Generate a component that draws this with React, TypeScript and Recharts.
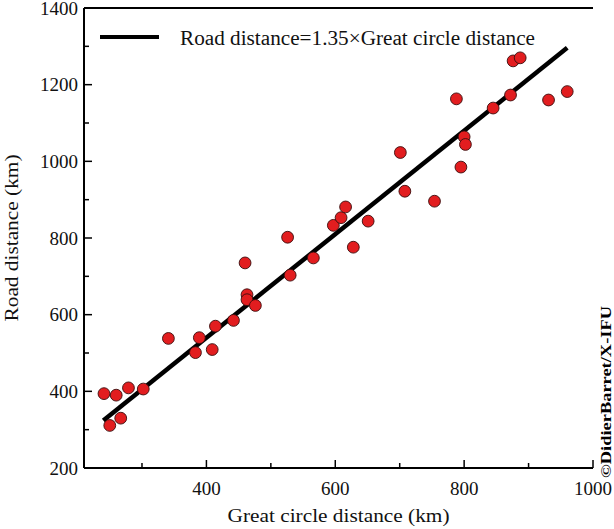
import React from 'react';
import { ComposedChart, Scatter, XAxis, YAxis } from 'recharts';

const greatCircleKm = [241, 260, 250, 267, 279, 302, 341, 383, 389, 409, 414, 442, 460, 463, 463, 476, 526, 530, 566, 597, 609, 616, 628, 651, 701, 708, 754, 788, 795, 800, 802, 845, 872, 876, 887, 931, 960];
const roadKm = [394, 390, 311, 330, 409, 406, 538, 501, 540, 509, 570, 585, 735, 652, 639, 624, 802, 703, 748, 833, 853, 881, 776, 844, 1023, 922, 896, 1163, 985, 1064, 1044, 1139, 1173, 1262, 1270, 1160, 1182];

const fitX = [240, 960];
const fitY = [324, 1296];

const xTicks = [300, 400, 500, 600, 700, 800, 900, 1000];
const yTicks = [200, 300, 400, 500, 600, 700, 800, 900, 1000, 1100, 1200, 1300, 1400];

const legendLabel = 'Road distance=1.35×Great circle distance';
const xTitle = 'Great circle distance (km)';
const yTitle = 'Road distance (km)';
const watermark = '©DidierBarret/X-IFU';

const points = greatCircleKm.map((x, i) => ({ x, y: roadKm[i] }));
const fitLine = fitX.map((x, i) => ({ x, y: fitY[i] }));

const FONT = '"Liberation Serif", "Times New Roman", serif';
const MAJOR = 8;
const MINOR = 5;

const isMajor = (v: number) => v % 200 === 0;

const BottomTick = (props: any) => {
  const { x, y, payload } = props;
  const v = payload.value;
  const len = isMajor(v) ? MAJOR : MINOR;
  return (
    <g>
      <line x1={x} y1={y} x2={x} y2={y - len} stroke="#000" strokeWidth={1.5} />
      {isMajor(v) && (
        <text x={x} y={y + 27} textAnchor="middle" fontSize={19} fontFamily={FONT} fill="#111">
          {v}
        </text>
      )}
    </g>
  );
};

const TopTick = (props: any) => {
  const { x, y, payload } = props;
  const len = isMajor(payload.value) ? MAJOR : MINOR;
  return <line x1={x} y1={y} x2={x} y2={y + len} stroke="#000" strokeWidth={1.5} />;
};

const LeftTick = (props: any) => {
  const { x, y, payload } = props;
  const v = payload.value;
  const len = isMajor(v) ? MAJOR : MINOR;
  return (
    <g>
      <line x1={x} y1={y} x2={x + len} y2={y} stroke="#000" strokeWidth={1.5} />
      {isMajor(v) && (
        <text x={x - 6} y={y + 6.5} textAnchor="end" fontSize={19} fontFamily={FONT} fill="#111">
          {v}
        </text>
      )}
    </g>
  );
};

const RightTick = (props: any) => {
  const { x, y, payload } = props;
  const len = isMajor(payload.value) ? MAJOR : MINOR;
  return <line x1={x} y1={y} x2={x - len} y2={y} stroke="#000" strokeWidth={1.5} />;
};

const Dot = (props: any) => {
  const { cx, cy } = props;
  return <circle cx={cx} cy={cy} r={5.9} fill="#e21d1f" stroke="#3a0c0c" strokeWidth={0.9} />;
};

const NoDot = () => <g />;

export default function App() {
  const W = 614;
  const H = 529;
  return (
    <div style={{ position: 'absolute', left: 0, top: 0, width: W, height: H, background: '#fff' }}>
      <ComposedChart width={W} height={H} margin={{ top: 8, right: 21, bottom: 0, left: 0 }}>
        <XAxis
          xAxisId="b"
          type="number"
          dataKey="x"
          domain={[210, 1000]}
          ticks={xTicks}
          interval={0}
          orientation="bottom"
          height={61}
          tickSize={0}
          tickMargin={0}
          tickLine={false}
          axisLine={{ stroke: '#000', strokeWidth: 2 }}
          tick={<BottomTick />}
          allowDataOverflow
        />
        <XAxis
          xAxisId="t"
          type="number"
          dataKey="x"
          domain={[210, 1000]}
          ticks={xTicks}
          interval={0}
          orientation="top"
          height={0}
          tickSize={0}
          tickMargin={0}
          tickLine={false}
          axisLine={{ stroke: '#000', strokeWidth: 2 }}
          tick={<TopTick />}
          allowDataOverflow
        />
        <YAxis
          yAxisId="l"
          type="number"
          dataKey="y"
          domain={[200, 1400]}
          ticks={yTicks}
          interval={0}
          orientation="left"
          width={84}
          tickSize={0}
          tickMargin={0}
          tickLine={false}
          axisLine={{ stroke: '#000', strokeWidth: 2 }}
          tick={<LeftTick />}
          allowDataOverflow
        />
        <YAxis
          yAxisId="r"
          type="number"
          dataKey="y"
          domain={[200, 1400]}
          ticks={yTicks}
          interval={0}
          orientation="right"
          width={0}
          tickSize={0}
          tickMargin={0}
          tickLine={false}
          axisLine={{ stroke: '#000', strokeWidth: 2 }}
          tick={<RightTick />}
          allowDataOverflow
        />
        <Scatter
          xAxisId="b"
          yAxisId="l"
          data={fitLine}
          line={{ stroke: '#000', strokeWidth: 4.5 }}
          lineType="joint"
          shape={<NoDot />}
          isAnimationActive={false}
        />
        <Scatter
          xAxisId="b"
          yAxisId="l"
          data={points}
          shape={<Dot />}
          isAnimationActive={false}
        />
      </ComposedChart>
      <svg
        width={W}
        height={H}
        style={{ position: 'absolute', left: 0, top: 0, pointerEvents: 'none' }}
      >
        <line x1={84} y1={8} x2={593} y2={8} stroke="#000" strokeWidth={2} />
        <line x1={100} y1={37} x2={159} y2={37} stroke="#000" strokeWidth={4} />
        <text x={180} y={45} fontSize={20} fontFamily={FONT} fill="#111" textLength={355} lengthAdjust="spacingAndGlyphs">
          {legendLabel}
        </text>
        <text x={338.5} y={522} textAnchor="middle" fontSize={19} fontFamily={FONT} fill="#111" textLength={222} lengthAdjust="spacingAndGlyphs">
          {xTitle}
        </text>
        <text
          x={18}
          y={238}
          textAnchor="middle"
          fontSize={19}
          fontFamily={FONT}
          fill="#111"
          transform="rotate(-90 18 238)"
          textLength={167}
          lengthAdjust="spacingAndGlyphs"
        >
          {yTitle}
        </text>
        <text
          x={611}
          y={392}
          textAnchor="middle"
          fontSize={14}
          fontWeight="bold"
          fontFamily={FONT}
          fill="#000"
          transform="rotate(-90 611 392)"
          textLength={172}
          lengthAdjust="spacingAndGlyphs"
        >
          {watermark}
        </text>
      </svg>
    </div>
  );
}
